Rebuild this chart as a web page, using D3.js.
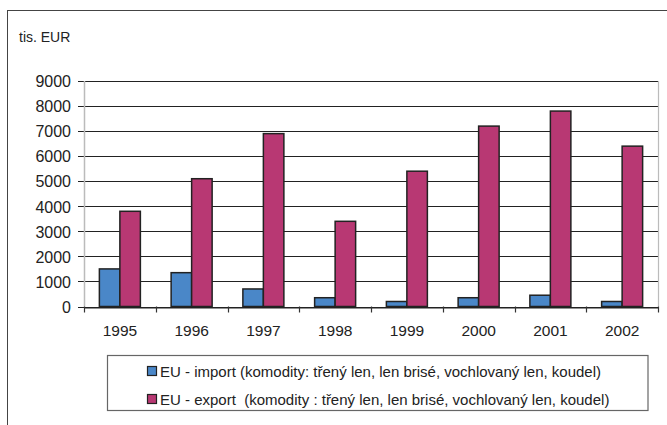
<!DOCTYPE html>
<html><head><meta charset="utf-8">
<script src="https://cdn.jsdelivr.net/npm/d3@7"></script>
<style>body{margin:0;background:#fff}svg{display:block}text{font-family:"Liberation Sans",Arial,sans-serif}</style>
</head><body>
<script>
const categories = ["1995","1996","1997","1998","1999","2000","2001","2002"];
const importValues = [1500,1350,700,350,200,350,450,200];
const exportValues = [3800,5100,6900,3400,5400,7200,7800,6400];
const yTicks = [0,1000,2000,3000,4000,5000,6000,7000,8000,9000];
const seriesNames = ["EU - import (komodity: třený len, len brisé, vochlovaný len, koudel)",
                     "EU - export  (komodity : třený len, len brisé, vochlovaný len, koudel)"];
const seriesColors = ["#4a87c8","#b83873"];
const yUnit = "tis. EUR";

const W=667,H=425;
const svg=d3.select("body").append("svg").attr("width",W).attr("height",H);
// outer frame (left and top visible)
svg.append("rect").attr("x",7.5).attr("y",10.5).attr("width",700).attr("height",500)
  .attr("fill","none").attr("stroke","#444").attr("stroke-width",1);

const plot={l:84,r:658,t:81,b:306.5};
const x=d3.scaleBand().domain(categories).range([plot.l,plot.r]).paddingInner(0).paddingOuter(0);
const y=d3.scaleLinear().domain([0,9000]).range([plot.b,plot.t]);

// gridlines
svg.append("g").selectAll("line").data(yTicks).join("line")
  .attr("x1",plot.l-6).attr("x2",plot.r).attr("y1",d=>Math.round(y(d))+0.5).attr("y2",d=>Math.round(y(d))+0.5)
  .attr("stroke","#222").attr("stroke-width",1.2);
// plot side borders (gray)
svg.append("line").attr("x1",plot.l+0.5).attr("x2",plot.l+0.5).attr("y1",plot.t).attr("y2",plot.b)
  .attr("stroke","#bbb").attr("stroke-width",1.5);
svg.append("line").attr("x1",plot.r+0.5).attr("x2",plot.r+0.5).attr("y1",plot.t).attr("y2",plot.b)
  .attr("stroke","#bbb").attr("stroke-width",1.2);
// x axis
const xAxis=d3.axisBottom(x).tickSize(0).tickFormat(d=>d);
const gx=svg.append("g").attr("transform",`translate(0,${Math.round(plot.b)+0.5})`).call(xAxis);
gx.select(".domain").attr("stroke","#222").attr("stroke-width",1.2);
gx.selectAll("text").attr("font-size",15.5).attr("fill","#222").attr("dy",0).attr("y",28.5);
// category boundary ticks
const bounds=categories.map(c=>x(c)).concat([plot.r]);
svg.append("g").selectAll("line").data(bounds).join("line")
  .attr("x1",d=>Math.round(d)+0.5).attr("x2",d=>Math.round(d)+0.5)
  .attr("y1",plot.b).attr("y2",plot.b+6).attr("stroke","#333").attr("stroke-width",1.2);
// y labels
const yAxis=d3.axisLeft(y).tickValues(yTicks).tickSize(0).tickPadding(13).tickFormat(d3.format("d"));
const gy=svg.append("g").attr("transform",`translate(${plot.l},0)`).call(yAxis);
gy.select(".domain").remove();
gy.selectAll("text").attr("font-size",16).attr("fill","#222").attr("dy","0.36em");

svg.append("text").attr("x",19).attr("y",42).attr("font-size",14).attr("fill","#222").text(yUnit);

// bars
const inner=d3.scaleBand().domain([0,1]).range([0,41]);
const groupOff=(x.bandwidth()-41)/2;
const data=categories.map((c,i)=>({c,vals:[importValues[i],exportValues[i]]}));
const g=svg.append("g");
data.forEach(d=>{
  d.vals.forEach((v,k)=>{
    g.append("rect")
      .attr("x",x(d.c)+groupOff+inner(k)).attr("width",inner.bandwidth())
      .attr("y",y(v)).attr("height",y(0)-y(v))
      .attr("fill",seriesColors[k]).attr("stroke","#222").attr("stroke-width",1.5);
  });
});

// legend
const lg=svg.append("g");
lg.append("rect").attr("x",107.5).attr("y",355.5).attr("width",540.5).attr("height",55)
  .attr("fill","#fff").attr("stroke","#666").attr("stroke-width",1.2);
seriesNames.forEach((n,i)=>{
  const cy=[371,399][i];
  lg.append("rect").attr("x",147.5).attr("y",cy-4.5).attr("width",9).attr("height",9)
    .attr("fill",seriesColors[i]).attr("stroke","#222").attr("stroke-width",1.2);
  lg.append("text").attr("x",160).attr("y",cy+5.5).attr("font-size",15).attr("fill","#222")
    .style("white-space","pre").text(n);
});
</script>
</body></html>
